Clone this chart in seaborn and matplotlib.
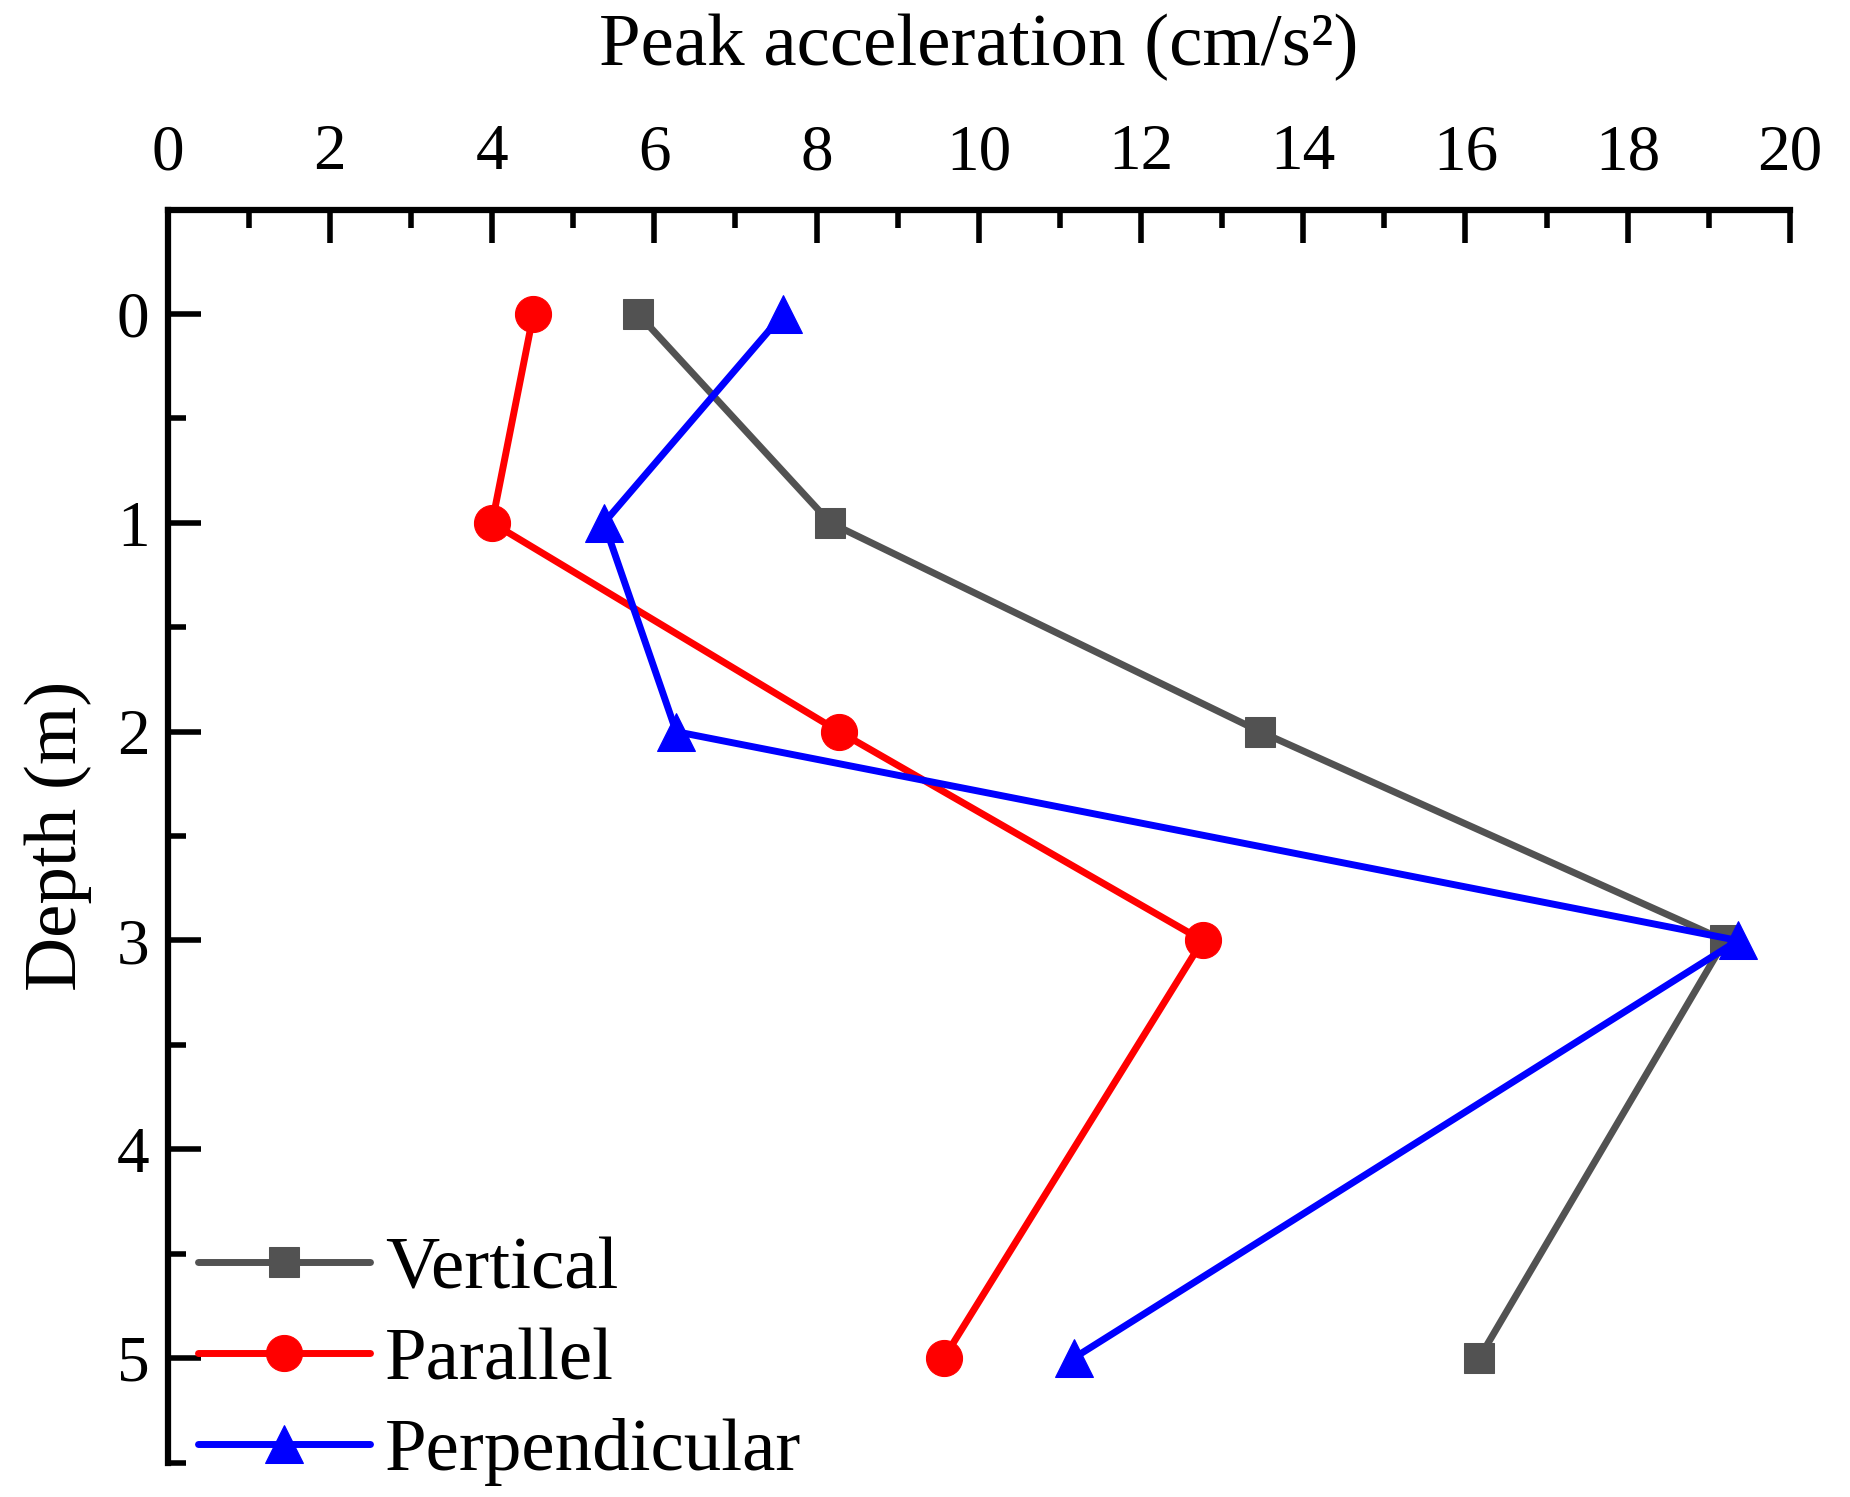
import matplotlib.pyplot as plt
import matplotlib.ticker as mticker
import pandas as pd
import seaborn as sns

depth = [0, 1, 2, 3, 5]
vertical = [5.8, 8.17, 13.47, 19.2, 16.17]
parallel = [4.51, 4.0, 8.28, 12.76, 9.57]
perpendicular = [7.59, 5.38, 6.27, 19.36, 11.17]
names = ['Vertical', 'Parallel', 'Perpendicular']
colors = ['#525252', '#ff0000', '#0000ff']
markers = ['s', 'o', '^']
msizes = [22, 26, 28]

sns.set_style("ticks")
plt.rcParams['font.family'] = ['Liberation Serif', 'DejaVu Serif']
plt.rcParams['text.color'] = 'black'
plt.rcParams['axes.labelcolor'] = 'black'
plt.rcParams['xtick.color'] = 'black'
plt.rcParams['ytick.color'] = 'black'
plt.rcParams['axes.edgecolor'] = 'black'

fig = plt.figure(figsize=(18.5, 14.97), dpi=100)
ax = fig.add_axes([0.0906, 0.023, 0.8769, 0.837])

for name, vals, c, m, ms in zip(names, [vertical, parallel, perpendicular], colors, markers, msizes):
  df = pd.DataFrame({'acc': vals, 'depth': depth})
  sns.lineplot(data=df, x='acc', y='depth', sort=False, ax=ax, color=c, marker=m,
               markersize=ms, markeredgecolor=c, lw=5, label=name)

for ln in ax.lines:
  ln.set_linewidth(5)

ax.set_xlim(0, 20)
ax.set_ylim(5.5, -0.5)
ax.xaxis.set_major_locator(mticker.MultipleLocator(2))
ax.xaxis.set_minor_locator(mticker.MultipleLocator(1))
ax.yaxis.set_major_locator(mticker.MultipleLocator(1))
ax.yaxis.set_minor_locator(mticker.MultipleLocator(0.5))
ax.xaxis.tick_top()
ax.xaxis.set_label_position('top')

for s in ['right', 'bottom']:
  ax.spines[s].set_visible(False)
for s in ['left', 'top']:
  ax.spines[s].set_linewidth(4.5)

ax.tick_params(which='major', direction='in', length=24, width=4, labelsize=47, pad=13)
ax.tick_params(axis='x', which='major', pad=19)
ax.tick_params(which='minor', direction='in', length=13, width=4)
ax.tick_params(axis='x', which='both', top=True, bottom=False)
ax.tick_params(axis='y', which='both', left=True, right=False)

ax.set_xlabel('Peak acceleration (cm/s²)', fontsize=54, labelpad=42)
ax.set_ylabel('Depth (m)', fontsize=54, labelpad=18)

leg = ax.legend(loc='lower left', frameon=False, fontsize=54, handlelength=2.3,
                handletextpad=0.2, labelspacing=0.3, borderaxespad=0.0,
                bbox_to_anchor=(0.0, -0.043))
for h in leg.get_lines():
  h.set_linewidth(5)

fig.savefig('out.png', dpi=100)
